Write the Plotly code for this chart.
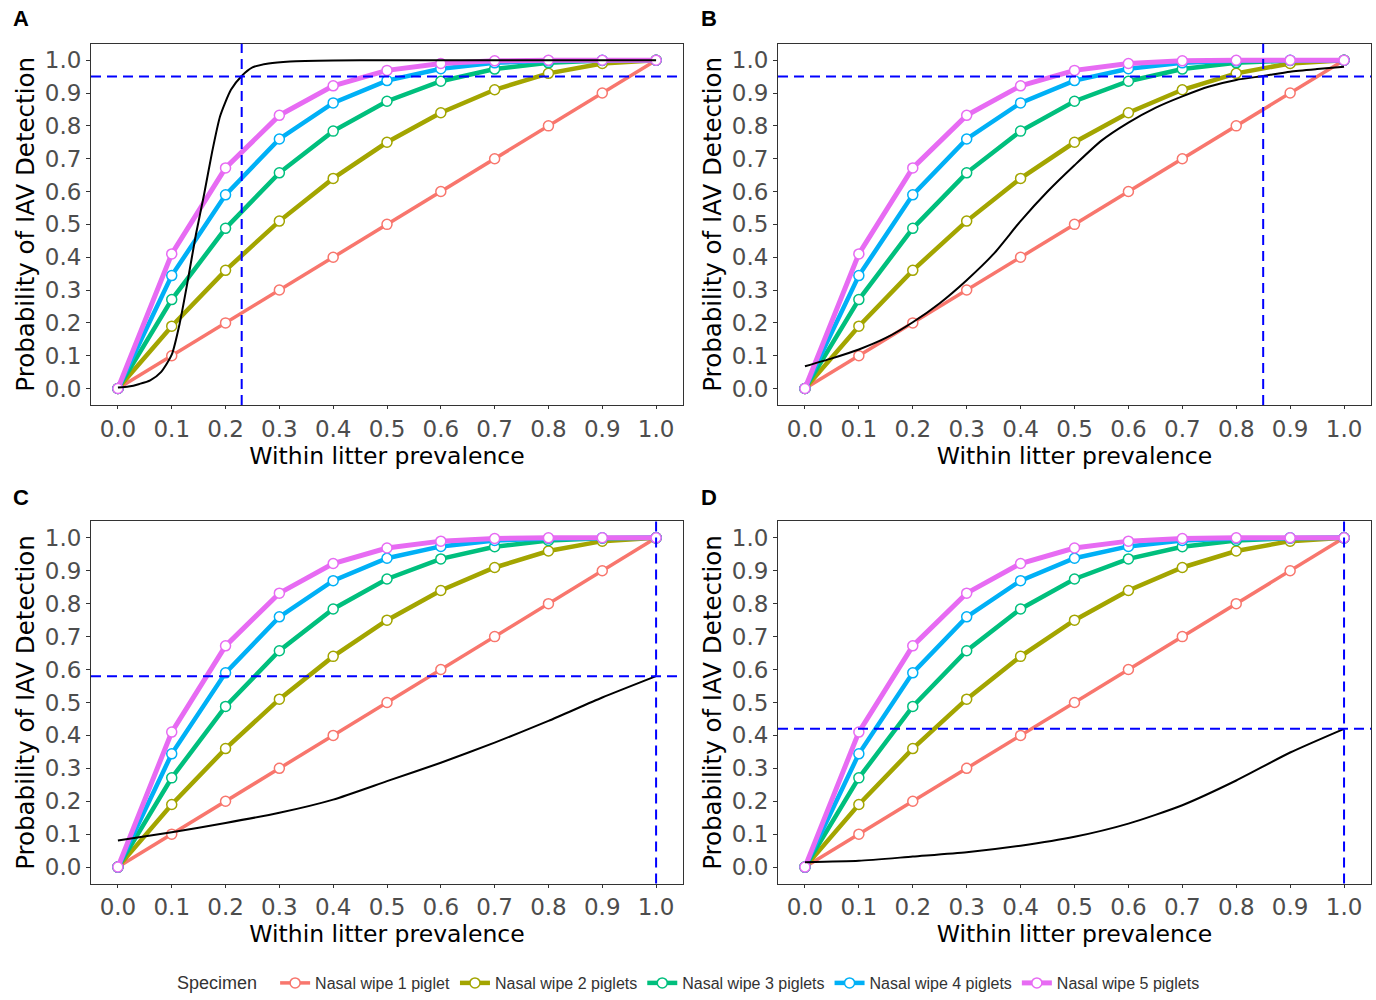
import plotly.graph_objects as go
from plotly.subplots import make_subplots

# Within-litter prevalence grid for the pooled-specimen curves
prevalence = [0.0, 0.1, 0.2, 0.3, 0.4, 0.5, 0.6, 0.7, 0.8, 0.9, 1.0]

specimens = ["Nasal wipe 1 piglet", "Nasal wipe 2 piglets", "Nasal wipe 3 piglets",
             "Nasal wipe 4 piglets", "Nasal wipe 5 piglets"]
specimen_colors = ["#F8766D", "#A3A500", "#00BF7D", "#00B0F6", "#E76BF3"]

wipe_1 = [0.0, 0.10, 0.20, 0.30, 0.40, 0.50, 0.60, 0.70, 0.80, 0.90, 1.0]
wipe_2 = [0.0, 0.19, 0.36, 0.51, 0.64, 0.75, 0.84, 0.91, 0.96, 0.99, 1.0]
wipe_3 = [0.0, 0.271, 0.488, 0.657, 0.784, 0.875, 0.936, 0.973, 0.992, 0.999, 1.0]
wipe_4 = [0.0, 0.344, 0.590, 0.760, 0.870, 0.938, 0.974, 0.992, 0.998, 1.0, 1.0]
wipe_5 = [0.0, 0.410, 0.672, 0.832, 0.922, 0.969, 0.990, 0.998, 1.0, 1.0, 1.0]
specimen_values = [wipe_1, wipe_2, wipe_3, wipe_4, wipe_5]
specimen_widths = [3.5, 4.5, 4.5, 4.5, 5]

# Herd-level detection curves (black) for each scenario
curve_a_x = [0.0, 0.02, 0.04, 0.06, 0.08, 0.10, 0.115, 0.13, 0.145, 0.16, 0.175,
             0.19, 0.21, 0.23, 0.25, 0.28, 0.32, 0.40, 0.50, 0.60, 0.80, 1.0]
curve_a_y = [0.003, 0.006, 0.014, 0.025, 0.05, 0.103, 0.20, 0.33, 0.47, 0.59, 0.72,
             0.83, 0.91, 0.952, 0.978, 0.99, 0.996, 0.999, 1.0, 1.0, 1.0, 1.0]
curve_b_x = [0.0, 0.05, 0.10, 0.15, 0.20, 0.25, 0.30, 0.35, 0.40, 0.45, 0.50,
             0.55, 0.60, 0.65, 0.70, 0.75, 0.80, 0.85, 0.90, 0.95, 1.0]
curve_b_y = [0.068, 0.092, 0.119, 0.154, 0.202, 0.26, 0.33, 0.41, 0.51, 0.60, 0.68,
             0.755, 0.81, 0.855, 0.89, 0.92, 0.94, 0.952, 0.965, 0.973, 0.98]
curve_c_x = [0.0, 0.1, 0.2, 0.3, 0.4, 0.5, 0.6, 0.7, 0.8, 0.9, 1.0]
curve_c_y = [0.081, 0.106, 0.134, 0.165, 0.205, 0.261, 0.317, 0.378, 0.444, 0.515, 0.58]
curve_d_x = [0.0, 0.1, 0.2, 0.3, 0.4, 0.5, 0.6, 0.7, 0.8, 0.9, 1.0]
curve_d_y = [0.015, 0.019, 0.032, 0.045, 0.065, 0.092, 0.132, 0.188, 0.263, 0.348, 0.42]

# Reference thresholds (horizontal probability, vertical prevalence)
panel_labels = ["A", "B", "C", "D"]
threshold_prob = [0.95, 0.95, 0.58, 0.42]
threshold_prev = [0.23, 0.85, 1.0, 1.0]

tick_vals = [0.0, 0.1, 0.2, 0.3, 0.4, 0.5, 0.6, 0.7, 0.8, 0.9, 1.0]
tick_text = ["0.0", "0.1", "0.2", "0.3", "0.4", "0.5", "0.6", "0.7", "0.8", "0.9", "1.0"]

black_curves = [(curve_a_x, curve_a_y), (curve_b_x, curve_b_y),
                (curve_c_x, curve_c_y), (curve_d_x, curve_d_y)]

W, H = 1376, 1000
fig = make_subplots(rows=2, cols=2)

positions = [(1, 1), (1, 2), (2, 1), (2, 2)]
for k, (r, c) in enumerate(positions):
    for i in range(5):
        fig.add_trace(go.Scatter(
            x=prevalence, y=specimen_values[i], mode="lines+markers",
            name=specimens[i], legendgroup=specimens[i], showlegend=(k == 0),
            line=dict(color=specimen_colors[i], width=specimen_widths[i]),
            marker=dict(symbol="circle", size=10, color="white",
                        line=dict(color=specimen_colors[i], width=1.5)),
        ), row=r, col=c)
    bx, by = black_curves[k]
    fig.add_trace(go.Scatter(
        x=bx, y=by, mode="lines", showlegend=False, hoverinfo="skip",
        line=dict(color="black", width=2, shape="spline", smoothing=0.6),
    ), row=r, col=c)

# Panel geometry in pixels
x_doms = [(91, 683), (778, 1371)]
y_doms = [(44, 407), (524, 888)]

font_axis = "DejaVu Sans"
for k, (r, c) in enumerate(positions):
    idx = "" if k == 0 else str(k + 1)
    xd = x_doms[c - 1]
    yd = y_doms[r - 1]
    fig.layout["xaxis" + idx].update(
        domain=[xd[0] / W, xd[1] / W], range=[-0.05, 1.05],
        tickvals=tick_vals, ticktext=tick_text, ticks="outside", ticklen=3,
        tickcolor="#333333", tickwidth=1,
        tickfont=dict(family=font_axis, size=23, color="#4D4D4D"),
        showline=True, mirror=True, linecolor="#333333", linewidth=1,
        showgrid=False, zeroline=False,
        title=dict(text="Within litter prevalence", standoff=5,
                   font=dict(family=font_axis, size=23.5, color="black")),
    )
    fig.layout["yaxis" + idx].update(
        domain=[1 - yd[1] / H, 1 - yd[0] / H], range=[-0.05, 1.05],
        tickvals=tick_vals, ticktext=tick_text, ticks="outside", ticklen=4,
        tickcolor="#333333", tickwidth=1,
        tickfont=dict(family=font_axis, size=23, color="#4D4D4D"),
        showline=True, mirror=True, linecolor="#333333", linewidth=1,
        showgrid=False, zeroline=False,
        title=dict(text="Probability of IAV Detection", standoff=3,
                   font=dict(family=font_axis, size=24.5, color="black")),
    )
    xref = "x" + idx
    yref = "y" + idx
    dash = dict(color="#0000FF", width=2, dash="10px,6px")
    fig.add_shape(type="line", xref=xref + " domain", yref=yref,
                  x0=0, x1=1, y0=threshold_prob[k], y1=threshold_prob[k],
                  line=dash, layer="above")
    fig.add_shape(type="line", xref=xref, yref=yref + " domain",
                  x0=threshold_prev[k], x1=threshold_prev[k], y0=0, y1=1,
                  line=dash, layer="above")
    fig.add_annotation(text="<b>" + panel_labels[k] + "</b>", xref="paper", yref="paper",
                       x=(11 if c == 1 else 699) / W,
                       y=1 - (19 if r == 1 else 500) / H,
                       xanchor="left", yanchor="middle", showarrow=False,
                       font=dict(family="Liberation Sans", size=22, color="black"))

fig.update_layout(
    width=W, height=H, margin=dict(l=0, r=0, t=0, b=0),
    paper_bgcolor="white", plot_bgcolor="white",
    showlegend=True,
    legend=dict(orientation="h", x=0.5015, xanchor="center", y=0.012, yanchor="middle",
                title=dict(text="Specimen  ", font=dict(family="Liberation Sans", size=18, color="#333333")),
                font=dict(family="Liberation Sans", size=16, color="#333333"),
                itemwidth=30, tracegroupgap=0),
)

fig.write_html("out.html")
